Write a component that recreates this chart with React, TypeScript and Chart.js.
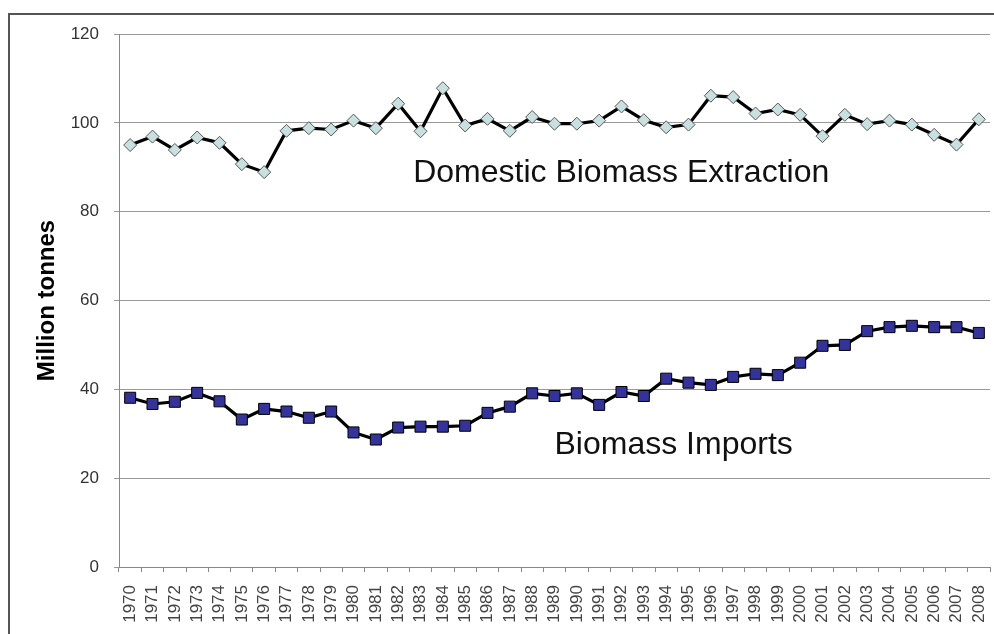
import React, { useEffect, useRef } from "react";
import { Chart, registerables } from "chart.js";

Chart.register(...registerables);

const years = [
  "1970", "1971", "1972", "1973", "1974", "1975", "1976", "1977", "1978", "1979",
  "1980", "1981", "1982", "1983", "1984", "1985", "1986", "1987", "1988", "1989",
  "1990", "1991", "1992", "1993", "1994", "1995", "1996", "1997", "1998", "1999",
  "2000", "2001", "2002", "2003", "2004", "2005", "2006", "2007", "2008",
];

const domesticExtraction = [
  95.0, 96.9, 93.9, 96.7, 95.5, 90.7, 88.9, 98.2, 98.8, 98.5,
  100.5, 98.8, 104.3, 98.1, 107.8, 99.4, 100.9, 98.2, 101.3, 99.8,
  99.8, 100.5, 103.7, 100.6, 99.0, 99.6, 106.1, 105.8, 102.1, 103.0,
  101.8, 97.0, 101.8, 99.7, 100.5, 99.6, 97.3, 95.1, 100.8,
];

const biomassImports = [
  38.1, 36.7, 37.2, 39.2, 37.3, 33.2, 35.6, 35.0, 33.6, 35.0,
  30.3, 28.7, 31.4, 31.6, 31.6, 31.8, 34.7, 36.1, 39.1, 38.5,
  39.1, 36.5, 39.4, 38.5, 42.4, 41.5, 41.0, 42.8, 43.5, 43.2,
  46.0, 49.8, 50.0, 53.1, 54.0, 54.3, 54.0, 54.0, 52.7,
];

const yMin = 0;
const yMax = 120;
const yStep = 20;

const seriesLabelText = ["Domestic Biomass Extraction", "Biomass Imports"];
const seriesLabelX = [12.67, 19.0];
const seriesLabelY = [86.7, 25.4];

const FONT = '"Liberation Sans", Arial, sans-serif';

const seriesLabelPlugin = {
  id: "seriesLabels",
  afterDatasetsDraw(chart: any) {
    const { ctx, scales } = chart;
    const xs = scales.x;
    const ys = scales.y;
    ctx.save();
    ctx.font = `32px ${FONT}`;
    ctx.fillStyle = "#111111";
    ctx.textAlign = "left";
    ctx.textBaseline = "alphabetic";
    seriesLabelText.forEach((t, i) => {
      ctx.fillText(t, xs.getPixelForValue(seriesLabelX[i]), ys.getPixelForValue(seriesLabelY[i]));
    });
    ctx.restore();
  },
};

export default function App() {
  const canvasRef = useRef<HTMLCanvasElement | null>(null);

  useEffect(() => {
    if (!canvasRef.current) return;
    Chart.defaults.font.family = FONT;
    const chart = new Chart(canvasRef.current, {
      type: "line",
      data: {
        labels: years,
        datasets: [
          {
            label: "Domestic Biomass Extraction",
            data: domesticExtraction,
            borderColor: "#000000",
            borderWidth: 3.2,
            tension: 0,
            pointStyle: "rectRot",
            pointRadius: 6.5,
            pointBackgroundColor: "#c8e0e0",
            pointBorderColor: "#555555",
            pointBorderWidth: 1,
          },
          {
            label: "Biomass Imports",
            data: biomassImports,
            borderColor: "#000000",
            borderWidth: 3.2,
            tension: 0,
            pointStyle: "rect",
            pointRadius: 7.8,
            pointBackgroundColor: "#333399",
            pointBorderColor: "#000000",
            pointBorderWidth: 1,
          },
        ],
      },
      options: {
        animation: false,
        responsive: false,
        devicePixelRatio: 1,
        layout: { autoPadding: false, padding: { top: 34, right: 4, left: 0, bottom: 0 } },
        plugins: {
          legend: { display: false },
          title: { display: false },
          tooltip: { enabled: false },
        },
        scales: {
          x: {
            type: "category",
            offset: true,
            grid: {
              display: true,
              drawOnChartArea: false,
              drawTicks: true,
              tickLength: 5,
              offset: true,
              color: "#888888",
            },
            border: { display: true, color: "#888888", width: 1 },
            ticks: {
              autoSkip: false,
              maxRotation: 90,
              minRotation: 90,
              padding: 13,
              color: "#444444",
              font: { size: 17, family: FONT },
            },
            afterFit: (s: any) => {
              s.height = 67;
              s.paddingLeft = 0;
              s.paddingRight = 0;
            },
          },
          y: {
            min: yMin,
            max: yMax,
            ticks: {
              stepSize: yStep,
              padding: 15,
              color: "#333333",
              font: { size: 17, family: FONT },
            },
            grid: { color: "#999999", tickLength: 5, drawTicks: true },
            border: { display: true, color: "#888888", width: 1 },
            title: {
              display: true,
              text: "Million tonnes",
              color: "#000000",
              font: { size: 24, weight: "bold", family: FONT },
              padding: { top: 32.6, bottom: 0 },
            },
            afterFit: (s: any) => {
              s.width = 119;
            },
          },
        },
      },
      plugins: [seriesLabelPlugin],
    } as any);
    return () => chart.destroy();
  }, []);

  return (
    <div
      style={{
        position: "absolute",
        left: 0,
        top: 0,
        width: 994,
        height: 634,
        overflow: "hidden",
        background: "#ffffff",
      }}
    >
      <canvas
        ref={canvasRef}
        width={994}
        height={634}
        style={{ position: "absolute", left: 0, top: 0, width: 994, height: 634 }}
      />
      <div
        style={{
          position: "absolute",
          left: 8,
          top: 13,
          width: 1100,
          height: 800,
          border: "2px solid #555555",
          pointerEvents: "none",
        }}
      />
    </div>
  );
}
